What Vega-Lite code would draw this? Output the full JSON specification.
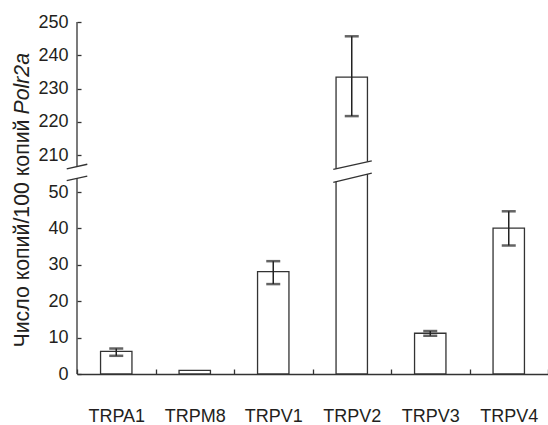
{
  "$schema": "https://vega.github.io/schema/vega-lite/v6.json",
  "width": 471,
  "height": 352,
  "autosize": {"type": "none"},
  "padding": {"left": 77, "top": 22, "right": 0, "bottom": 51},
  "background": "white",
  "config": {"view": {"stroke": null}, "font": "Liberation Sans"},
  "datasets": {
    "expr": [
      {"gene": "TRPA1", "mean": 6.2, "lo": 5.0, "hi": 7.0},
      {"gene": "TRPM8", "mean": 1.0, "lo": null, "hi": null},
      {"gene": "TRPV1", "mean": 28.1, "lo": 24.7, "hi": 31.0},
      {"gene": "TRPV2", "mean": 233.4, "lo": 221.7, "hi": 245.7},
      {"gene": "TRPV3", "mean": 11.2, "lo": 10.5, "hi": 11.8},
      {"gene": "TRPV4", "mean": 40.1, "lo": 35.3, "hi": 44.7}
    ],
    "slashes": [
      {"x": -0.131, "x2": 0.131, "y": 99, "y2": 119},
      {"x": -0.131, "x2": 0.131, "y": 150, "y2": 170},
      {"x": 3.265, "x2": 3.755, "y": 92, "y2": 132},
      {"x": 3.265, "x2": 3.755, "y": 148, "y2": 185}
    ],
    "gap": [
      {"x": 3.265, "top": 148, "bot": 92},
      {"x": 3.755, "top": 185, "bot": 132}
    ],
    "axisline": [
      {"x": 0, "y": 0, "y2": 110.5},
      {"x": 0, "y": 160.3, "y2": 250}
    ]
  },
  "layer": [
    {
      "data": {"name": "expr"},
      "encoding": {
        "x": {
          "field": "gene", "type": "nominal", "sort": null,
          "scale": {"domain": ["TRPA1", "TRPM8", "TRPV1", "TRPV2", "TRPV3", "TRPV4"], "paddingInner": 0, "paddingOuter": 0},
          "axis": {
            "title": null, "tickBand": "extent", "tickSize": -5, "tickColor": "#333", "tickWidth": 1.3,
            "domainColor": "#333", "domainWidth": 1.3, "labelFontSize": 18, "labelColor": "#231f20",
            "labelAngle": 0, "labelBaseline": "alphabetic", "labelPadding": 52, "grid": false
          }
        }
      },
      "layer": [
        {
          "mark": {"type": "bar", "width": {"band": 0.4}, "fill": "white", "stroke": "#333", "strokeWidth": 1.3},
          "encoding": {
            "y": {
              "field": "mean", "type": "quantitative",
              "scale": {"type": "linear", "domain": [0, 50, 210, 250], "range": [352, 170, 133, 0], "nice": false, "zero": false},
              "axis": {
                "orient": "left", "values": [0, 10, 20, 30, 40, 50, 210, 220, 230, 240, 250], "domain": false, "grid": false,
                "tickSize": -4, "tickColor": "#333", "tickWidth": 1.3, "labelFontSize": 18, "labelColor": "#231f20",
                "labelPadding": 13, "title": "Число копий/100 копий", "titleFontSize": 21.3, "titleFontWeight": "normal",
                "titleColor": "#231f20", "titleAngle": 270, "titleAlign": "left", "titleBaseline": "alphabetic",
                "titleX": -49, "titleY": 325
              }
            }
          }
        },
        {
          "mark": {"type": "rule", "color": "#222", "strokeWidth": 1.5},
          "encoding": {
            "y": {
              "field": "lo", "type": "quantitative",
              "scale": {"type": "linear", "domain": [0, 50, 210, 250], "range": [352, 170, 133, 0], "nice": false, "zero": false},
              "axis": {
                "orient": "left", "values": [0, 10, 20, 30, 40, 50, 210, 220, 230, 240, 250], "domain": false, "grid": false,
                "tickSize": -4, "tickColor": "#333", "tickWidth": 1.3, "labelFontSize": 18, "labelColor": "#231f20",
                "labelPadding": 13, "title": "Число копий/100 копий", "titleFontSize": 21.3, "titleFontWeight": "normal",
                "titleColor": "#231f20", "titleAngle": 270, "titleAlign": "left", "titleBaseline": "alphabetic",
                "titleX": -49, "titleY": 325
              }
            },
            "y2": {"field": "hi"}
          }
        },
        {
          "mark": {"type": "tick", "color": "#222", "thickness": 2.5, "size": 14},
          "encoding": {
            "y": {
              "field": "lo", "type": "quantitative",
              "scale": {"type": "linear", "domain": [0, 50, 210, 250], "range": [352, 170, 133, 0], "nice": false, "zero": false},
              "axis": {
                "orient": "left", "values": [0, 10, 20, 30, 40, 50, 210, 220, 230, 240, 250], "domain": false, "grid": false,
                "tickSize": -4, "tickColor": "#333", "tickWidth": 1.3, "labelFontSize": 18, "labelColor": "#231f20",
                "labelPadding": 13, "title": "Число копий/100 копий", "titleFontSize": 21.3, "titleFontWeight": "normal",
                "titleColor": "#231f20", "titleAngle": 270, "titleAlign": "left", "titleBaseline": "alphabetic",
                "titleX": -49, "titleY": 325
              }
            }
          }
        },
        {
          "mark": {"type": "tick", "color": "#222", "thickness": 2.5, "size": 14},
          "encoding": {
            "y": {
              "field": "hi", "type": "quantitative",
              "scale": {"type": "linear", "domain": [0, 50, 210, 250], "range": [352, 170, 133, 0], "nice": false, "zero": false},
              "axis": {
                "orient": "left", "values": [0, 10, 20, 30, 40, 50, 210, 220, 230, 240, 250], "domain": false, "grid": false,
                "tickSize": -4, "tickColor": "#333", "tickWidth": 1.3, "labelFontSize": 18, "labelColor": "#231f20",
                "labelPadding": 13, "title": "Число копий/100 копий", "titleFontSize": 21.3, "titleFontWeight": "normal",
                "titleColor": "#231f20", "titleAngle": 270, "titleAlign": "left", "titleBaseline": "alphabetic",
                "titleX": -49, "titleY": 325
              }
            }
          }
        }
      ]
    },
    {
      "layer": [
        {
          "data": {"name": "gap"},
          "mark": {"type": "area", "fill": "white", "opacity": 1},
          "encoding": {
            "x": {"field": "x", "type": "quantitative", "scale": {"domain": [0, 6], "nice": false, "zero": false}, "axis": null},
            "y": {
              "field": "top", "type": "quantitative",
              "scale": {"type": "linear", "domain": [0, 50, 210, 250], "range": [352, 170, 133, 0], "nice": false, "zero": false},
              "axis": {
                "orient": "left", "labels": false, "ticks": false, "domain": false, "grid": false,
                "title": "Polr2a", "titleFontStyle": "italic", "titleFontSize": 21.3, "titleFontWeight": "normal",
                "titleColor": "#231f20", "titleAngle": 270, "titleAlign": "left", "titleBaseline": "alphabetic",
                "titleX": -49, "titleY": 92
              }
            },
            "y2": {"field": "bot"}
          }
        },
        {
          "data": {"name": "slashes"},
          "mark": {"type": "rule", "color": "#333", "strokeWidth": 1.3},
          "encoding": {
            "x": {"field": "x", "type": "quantitative", "scale": {"domain": [0, 6], "nice": false, "zero": false}, "axis": null},
            "x2": {"field": "x2"},
            "y": {
              "field": "y", "type": "quantitative",
              "scale": {"type": "linear", "domain": [0, 50, 210, 250], "range": [352, 170, 133, 0], "nice": false, "zero": false},
              "axis": {
                "orient": "left", "labels": false, "ticks": false, "domain": false, "grid": false,
                "title": "Polr2a", "titleFontStyle": "italic", "titleFontSize": 21.3, "titleFontWeight": "normal",
                "titleColor": "#231f20", "titleAngle": 270, "titleAlign": "left", "titleBaseline": "alphabetic",
                "titleX": -49, "titleY": 92
              }
            },
            "y2": {"field": "y2"}
          }
        },
        {
          "data": {"name": "axisline"},
          "mark": {"type": "rule", "color": "#333", "strokeWidth": 1.3},
          "encoding": {
            "x": {"field": "x", "type": "quantitative", "scale": {"domain": [0, 6], "nice": false, "zero": false}, "axis": null},
            "y": {
              "field": "y", "type": "quantitative",
              "scale": {"type": "linear", "domain": [0, 50, 210, 250], "range": [352, 170, 133, 0], "nice": false, "zero": false},
              "axis": {
                "orient": "left", "labels": false, "ticks": false, "domain": false, "grid": false,
                "title": "Polr2a", "titleFontStyle": "italic", "titleFontSize": 21.3, "titleFontWeight": "normal",
                "titleColor": "#231f20", "titleAngle": 270, "titleAlign": "left", "titleBaseline": "alphabetic",
                "titleX": -49, "titleY": 92
              }
            },
            "y2": {"field": "y2"}
          }
        }
      ]
    }
  ],
  "resolve": {"scale": {"x": "independent"}, "axis": {"x": "independent", "y": "independent"}}
}
